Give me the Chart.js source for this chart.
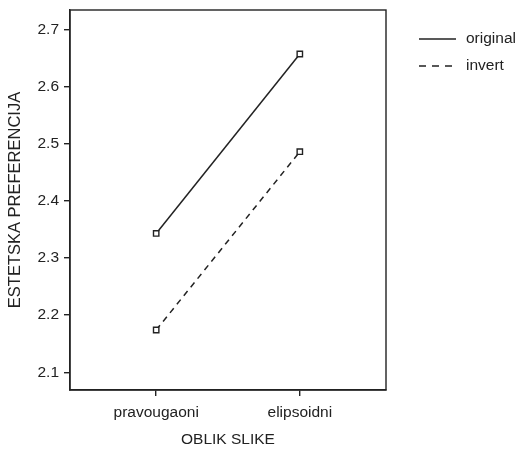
<!DOCTYPE html>
<html lang="en">
<head>
    <meta charset="UTF-8">
    <title>Estetska preferencija</title>
    <script src="https://cdn.jsdelivr.net/npm/chart.js"></script>
    <style>
        html, body { margin: 0; padding: 0; background: #fff; }
        #wrap { width: 521px; height: 450px; }
    </style>
</head>
<body>
    <div id="wrap"><canvas id="chart" width="521" height="450"></canvas></div>

    <script>
        // Data
        const categories = ['pravougaoni', 'elipsoidni'];
        const originalValues = [2.343, 2.657];
        const invertValues = [2.174, 2.486];
        const yTicks = [2.1, 2.2, 2.3, 2.4, 2.5, 2.6, 2.7];

        const ink = '#222';
        const fontFamily = 'Liberation Sans, Arial, sans-serif';

        function toPoints(values) {
            return values.map((v, i) => ({ x: i + 1, y: v }));
        }

        // Box around the plot area and a legend on the right
        const framePlugin = {
            id: 'frame',
            afterDraw(chart) {
                const { ctx, chartArea: a } = chart;
                ctx.save();
                ctx.strokeStyle = ink;
                ctx.lineWidth = 1.4;
                ctx.strokeRect(a.left, a.top, a.right - a.left, a.bottom - a.top);

                ctx.font = '15.5px ' + fontFamily;
                ctx.textBaseline = 'middle';
                ctx.fillStyle = ink;
                chart.data.datasets.forEach((ds, i) => {
                    const y = 39 + i * 27;
                    ctx.beginPath();
                    ctx.setLineDash(ds.borderDash ? [7, 6] : []);
                    ctx.lineWidth = ds.borderWidth;
                    ctx.moveTo(419, y);
                    ctx.lineTo(456, y);
                    ctx.stroke();
                    ctx.setLineDash([]);
                    ctx.fillText(ds.label, 466, y);
                });
                ctx.restore();
            }
        };

        new Chart(document.getElementById('chart'), {
            type: 'line',
            data: {
                datasets: [
                    {
                        label: 'original',
                        data: toPoints(originalValues),
                        borderColor: ink,
                        borderWidth: 1.5,
                        pointStyle: 'rect',
                        pointRadius: 3.8,
                        pointBackgroundColor: '#fff',
                        pointBorderColor: ink,
                        pointBorderWidth: 1.4
                    },
                    {
                        label: 'invert',
                        data: toPoints(invertValues),
                        borderColor: ink,
                        borderWidth: 1.5,
                        borderDash: [6, 5],
                        pointStyle: 'rect',
                        pointRadius: 3.8,
                        pointBackgroundColor: '#fff',
                        pointBorderColor: ink,
                        pointBorderWidth: 1.4
                    }
                ]
            },
            options: {
                responsive: false,
                animation: false,
                layout: { padding: { top: 10, right: 135, left: 0, bottom: 0 } },
                plugins: {
                    legend: { display: false },
                    tooltip: { enabled: false }
                },
                scales: {
                    x: {
                        type: 'linear',
                        min: 0.4,
                        max: 2.6,
                        afterBuildTicks: (scale) => {
                            scale.ticks = categories.map((c, i) => ({ value: i + 1 }));
                        },
                        afterFit: (scale) => {
                            scale.height = 60;
                            scale.paddingLeft = 0;
                            scale.paddingRight = 0;
                        },
                        ticks: {
                            callback: (v) => categories[v - 1],
                            color: ink,
                            padding: 7,
                            maxRotation: 0,
                            font: { family: fontFamily, size: 15.5 }
                        },
                        grid: { drawOnChartArea: false, drawTicks: true, tickLength: 6, color: ink, lineWidth: 1.4 },
                        border: { display: true, color: ink, width: 1.4 },
                        title: {
                            display: true,
                            text: 'OBLIK SLIKE',
                            color: ink,
                            padding: { top: 1, bottom: 1 },
                            font: { family: fontFamily, size: 15.5 }
                        }
                    },
                    y: {
                        min: 2.069,
                        max: 2.734,
                        afterBuildTicks: (scale) => {
                            scale.ticks = yTicks.map(v => ({ value: v }));
                        },
                        afterFit: (scale) => {
                            scale.width = 70;
                            scale.paddingTop = 0;
                            scale.paddingBottom = 0;
                        },
                        ticks: {
                            callback: (v) => v.toFixed(1),
                            color: ink,
                            padding: 5,
                            font: { family: fontFamily, size: 15.5 }
                        },
                        grid: { drawOnChartArea: false, drawTicks: true, tickLength: 6, color: ink, lineWidth: 1.4 },
                        border: { display: true, color: ink, width: 1.4 },
                        title: {
                            display: true,
                            text: 'ESTETSKA PREFERENCIJA',
                            color: ink,
                            padding: { top: 6, bottom: 5 },
                            font: { family: fontFamily, size: 16.5 }
                        }
                    }
                }
            },
            plugins: [framePlugin]
        });
    </script>
</body>
</html>
